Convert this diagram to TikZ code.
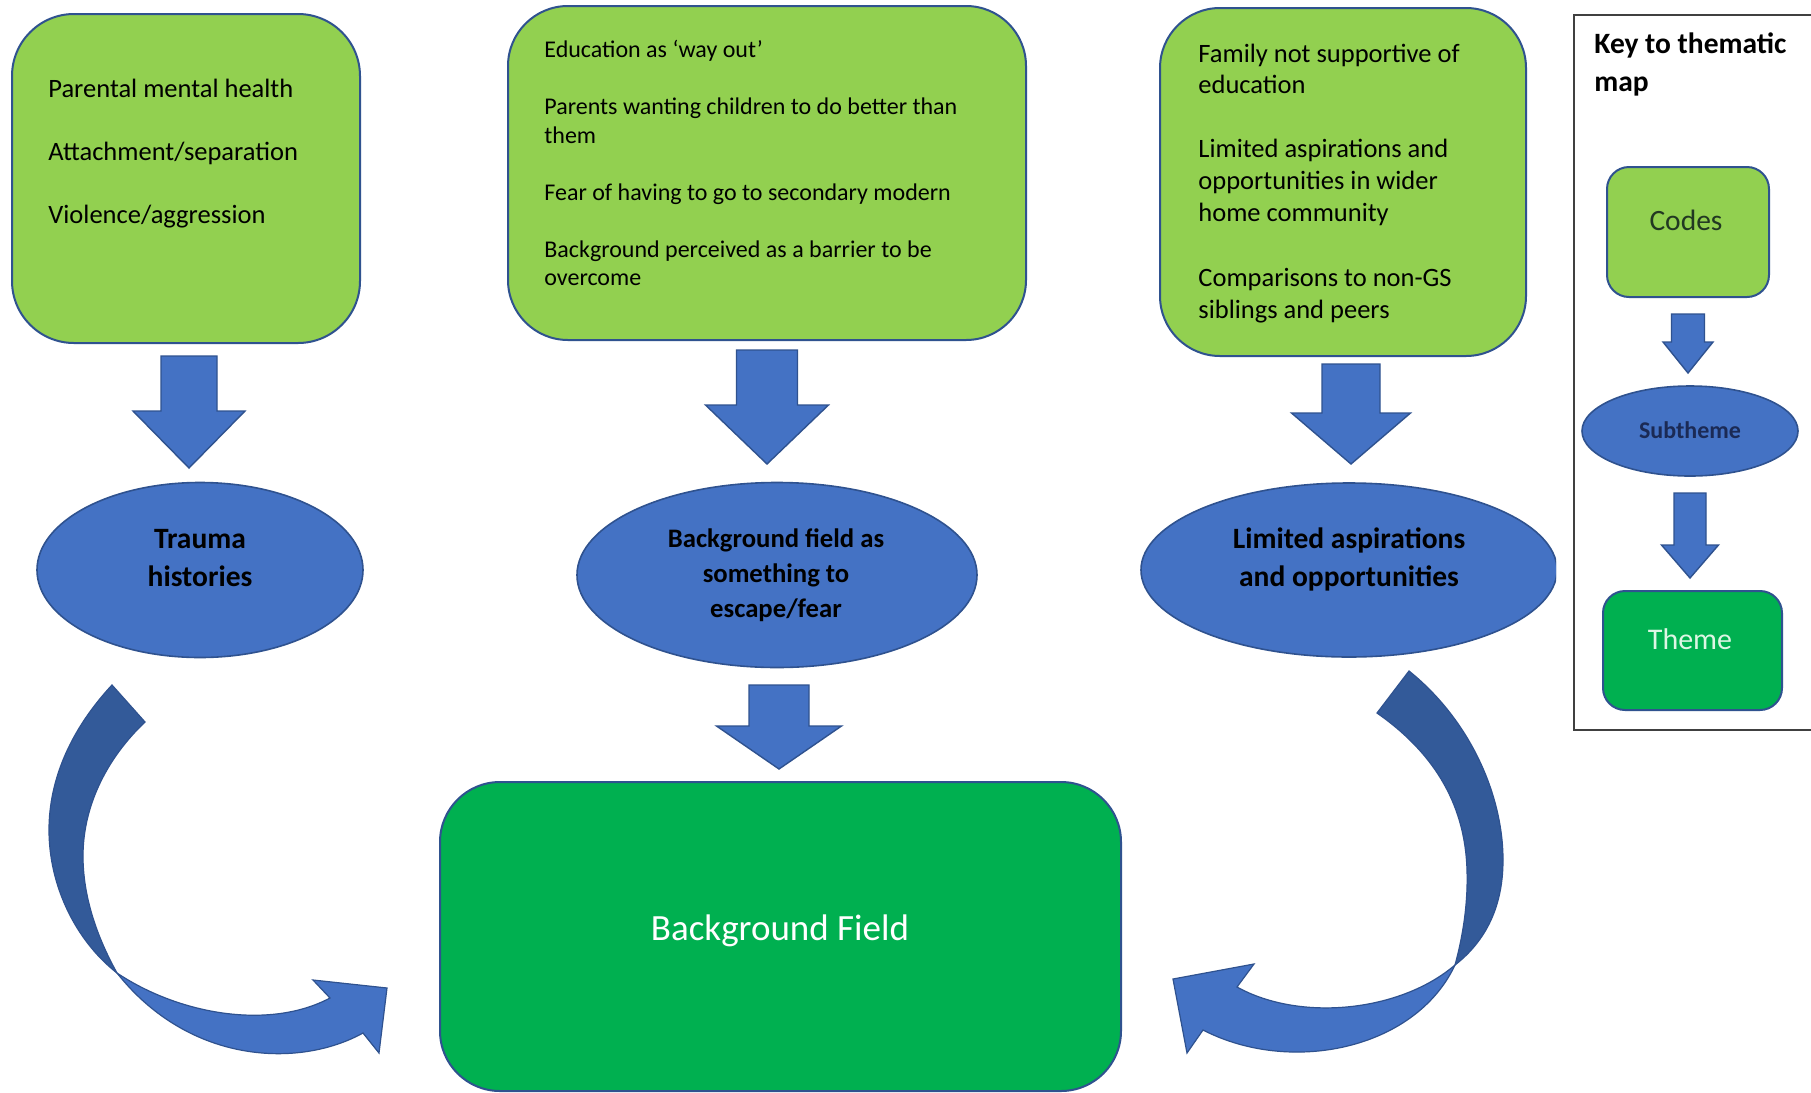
\documentclass[tikz,border=0pt]{standalone}
\usepackage{fontspec}
\setmainfont{Carlito}
\usetikzlibrary{shapes.geometric}

\definecolor{codegreen}{HTML}{92D050}
\definecolor{themegreen}{HTML}{00B050}
\definecolor{subblue}{HTML}{4472C4}
\definecolor{edgeblue}{HTML}{2F528F}
\definecolor{backblue}{HTML}{335A99}
\definecolor{framegray}{HTML}{404040}
\definecolor{codetext}{HTML}{223822}
\definecolor{subtext}{HTML}{1B2A55}
\definecolor{themetext}{HTML}{DDF6E4}

% down-pointing block arrow: centre x, top y, half shaft, half head, shoulder y, tip y
\newcommand{\blockdown}[6]{%
  \filldraw[blockarrow] ({#1-#3},#2) -- ({#1+#3},#2) -- ({#1+#3},#5) -- ({#1+#4},#5)
    -- (#1,#6) -- ({#1-#4},#5) -- ({#1-#3},#5) -- cycle;}

\begin{document}
\begin{tikzpicture}[x=0.5pt,y=-0.5pt,
  codebox/.style={draw=edgeblue, line width=1pt, fill=codegreen, rectangle, rounded corners=31pt, inner sep=0pt},
  themebox/.style={draw=edgeblue, line width=1pt, fill=themegreen, rectangle, rounded corners=30pt, inner sep=0pt},
  subell/.style={draw=edgeblue, line width=0.8pt, fill=subblue, ellipse, inner sep=0pt},
  blockarrow/.style={fill=subblue, draw=edgeblue, line width=0.7pt, line join=miter},
  codetxt/.style={anchor=base west, inner sep=0pt, font=\fontsize{13.25}{16}\selectfont},
  codetxtsmall/.style={anchor=base west, inner sep=0pt, font=\fontsize{12}{14}\selectfont},
  subtxt/.style={anchor=base, inner sep=0pt, font=\fontsize{14.75}{17}\selectfont\bfseries},
  subtxtsmall/.style={anchor=base, inner sep=0pt, font=\fontsize{13.35}{16}\selectfont\bfseries},
  backpart/.style={fill=backblue, draw=edgeblue, line width=0.6pt},
  frontpart/.style={fill=subblue, draw=edgeblue, line width=0.6pt, line join=miter}
]
\fill[white] (0,0) rectangle (1811,1093);
\useasboundingbox (0,0) rectangle (1811,1093);

% ---------- code boxes ----------
\node[codebox, minimum width=174pt, minimum height=164.5pt] (codes1) at (186,178.5) {};
\node[codetxt] (c1a) at (48,97)  {Parental mental health};
\node[codetxt] (c1b) at (48,160) {Attachment/separation};
\node[codetxt] (c1c) at (48,223) {Violence/aggression};

\node[codebox, rounded corners=30pt, minimum width=259pt, minimum height=167pt] (codes2) at (767,173) {};
\node[codetxtsmall] (c2a) at (544,57)  {Education as ‘way out’};
\node[codetxtsmall] (c2b) at (544,114) {Parents wanting children to do better than};
\node[codetxtsmall] (c2c) at (544,143) {them};
\node[codetxtsmall] (c2d) at (544,200) {Fear of having to go to secondary modern};
\node[codetxtsmall] (c2e) at (544,257) {Background perceived as a barrier to be};
\node[codetxtsmall] (c2f) at (544,285) {overcome};

\node[codebox, rounded corners=30pt, minimum width=183pt, minimum height=174pt] (codes3) at (1343,182) {};
\node[codetxt] (c3a) at (1198,62)  {Family not supportive of};
\node[codetxt] (c3b) at (1198,93)  {education};
\node[codetxt] (c3c) at (1198,157) {Limited aspirations and};
\node[codetxt] (c3d) at (1198,189) {opportunities in wider};
\node[codetxt] (c3e) at (1198,221) {home community};
\node[codetxt] (c3f) at (1198,286) {Comparisons to non-GS};
\node[codetxt] (c3g) at (1198,318) {siblings and peers};

% ---------- block arrows codes -> subthemes ----------
\blockdown{189}{356}{28}{56}{411}{468}
\blockdown{767}{350}{30.5}{61.5}{405}{464}
\blockdown{1351}{364}{29}{59.5}{413}{464}

% ---------- subthemes ----------
\node[subell, minimum width=163pt, minimum height=87.5pt] (sub1) at (200,570) {};
\node[subtxt] (s1a) at (200,548) {Trauma};
\node[subtxt] (s1b) at (200,586) {histories};

\node[subell, minimum width=200pt, minimum height=92.5pt] (sub2) at (777,575) {};
\node[subtxtsmall] (s2a) at (776,547) {Background field as};
\node[subtxtsmall] (s2b) at (776,582) {something to};
\node[subtxtsmall] (s2c) at (776,617) {escape/fear};

\begin{scope}
  \clip (1100,450) rectangle (1556,700);
  \node[subell, minimum width=208pt, minimum height=87pt] (sub3) at (1349,570) {};
\end{scope}
\node[subtxt] (s3a) at (1349,548) {Limited aspirations};
\node[subtxt] (s3b) at (1349,586) {and opportunities};

% ---------- block arrow subtheme -> theme ----------
\blockdown{779}{685}{30}{62.5}{726}{769}

% ---------- theme ----------
\node[themebox, minimum width=340.5pt, minimum height=154.5pt] (theme) at (780.5,936.5) {};
\node[anchor=base, inner sep=0pt, text=white, font=\fontsize{18.5}{22}\selectfont] (themelabel) at (780,940) {Background Field};

% ---------- curved arrow, left ----------
\coordinate (lcross) at (117,973);
\filldraw[backpart] (112,685) .. controls (72,728) and (49,778) .. (49,830)
  .. controls (49,885) and (75,940) .. (lcross)
  .. controls (97,937) and (83,897) .. (83,856)
  .. controls (83,808) and (105,760) .. (145,722) -- cycle;
\filldraw[frontpart] (lcross) .. controls (180,1015) and (270,1030) .. (330,998)
  -- (313,980) -- (387,988) -- (379,1053) -- (363,1033)
  .. controls (300,1068) and (190,1065) .. (lcross) -- cycle;

% ---------- curved arrow, right ----------
\coordinate (rcross) at (1455,965);
\filldraw[backpart] (1409,671) .. controls (1470,720) and (1503,795) .. (1503,860)
  .. controls (1503,905) and (1487,940) .. (rcross)
  .. controls (1464,932) and (1468,900) .. (1467,870)
  .. controls (1465,800) and (1430,750) .. (1377,713) -- cycle;
\filldraw[frontpart] (rcross) .. controls (1400,1012) and (1300,1022) .. (1237,987)
  -- (1254,964) -- (1173,979) -- (1187,1053) -- (1203,1030)
  .. controls (1290,1075) and (1415,1050) .. (rcross) -- cycle;

% ---------- key ----------
\draw[framegray, line width=1pt] (1811,15) -- (1574,15) -- (1574,730) -- (1811,730);
\node[anchor=base west, inner sep=0pt, font=\fontsize{14.75}{17}\selectfont\bfseries] (keya) at (1594,53) {Key to thematic};
\node[anchor=base west, inner sep=0pt, font=\fontsize{14.75}{17}\selectfont\bfseries] (keyb) at (1594,91) {map};

\node[codebox, rounded corners=11pt, minimum width=81pt, minimum height=65pt] (keycodes) at (1688,232) {};
\node[anchor=base, inner sep=0pt, text=codetext, font=\fontsize{14.75}{17}\selectfont] (keycodeslabel) at (1686,230) {Codes};

\blockdown{1688}{314}{16.5}{25}{342}{373}

\node[subell, minimum width=108pt, minimum height=45pt] (keysub) at (1690,431) {};
\node[anchor=base, inner sep=0pt, text=subtext, font=\fontsize{12}{14}\selectfont\bfseries] (keysublabel) at (1690,438) {Subtheme};

\blockdown{1690}{493}{16}{28.5}{545}{578}

\node[themebox, rounded corners=11pt, minimum width=89.5pt, minimum height=59.5pt] (keytheme) at (1692.5,650.5) {};
\node[anchor=base, inner sep=0pt, text=themetext, font=\fontsize{15}{17}\selectfont] (keythemelabel) at (1690,649) {Theme};
\end{tikzpicture}
\end{document}
